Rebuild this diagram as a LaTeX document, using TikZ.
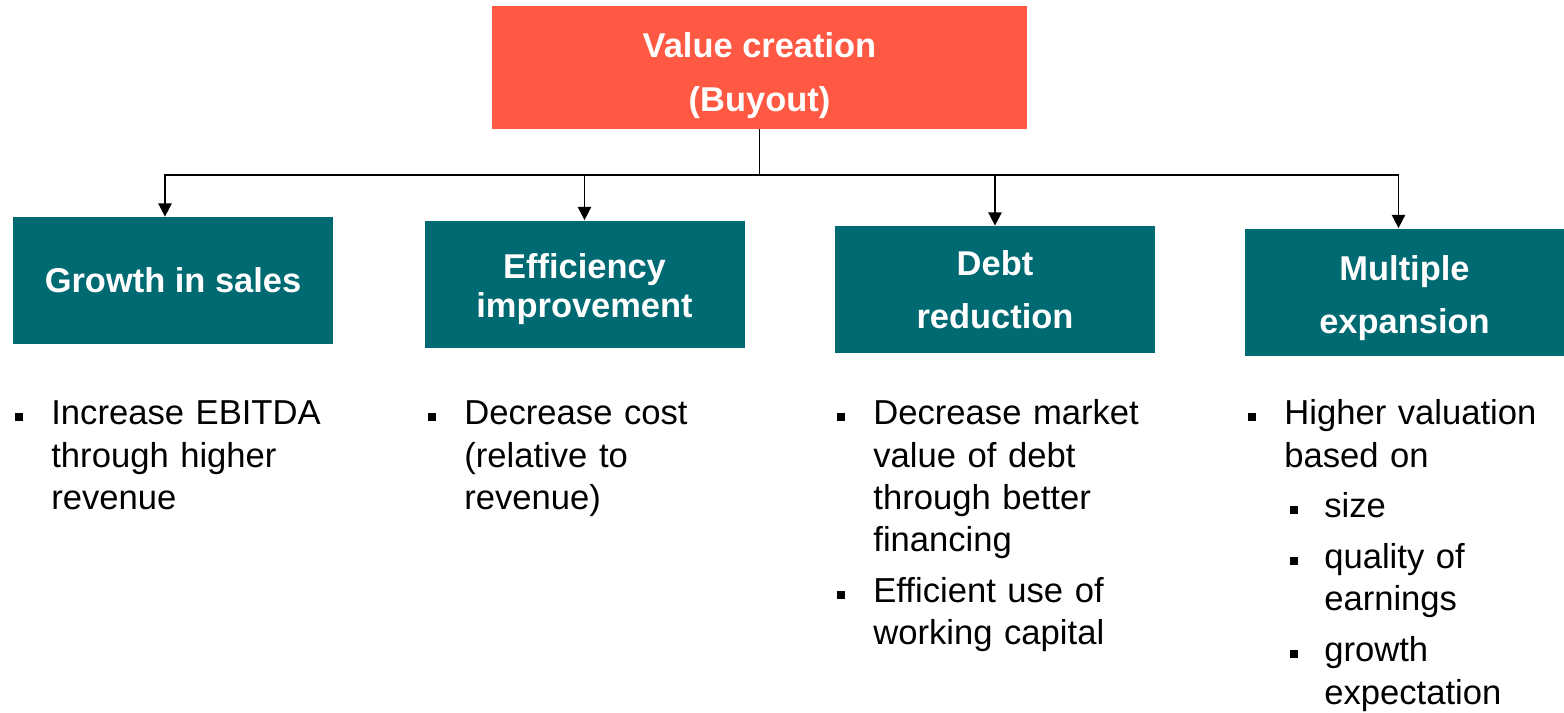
\documentclass[tikz,border=0pt]{standalone}
\usepackage{fontspec}
\setmainfont{Liberation Sans}
\usepackage{enumitem}
\usetikzlibrary{arrows.meta}

\definecolor{buyoutred}{HTML}{FF5843}
\definecolor{leverteal}{HTML}{006A72}

\setlist[itemize,1]{label=\rule[2.3pt]{4.2pt}{4.2pt}, leftmargin=20.5pt,
    labelwidth=4.2pt, labelsep=16.3pt, topsep=0pt, partopsep=0pt,
    itemsep=4.8pt, parsep=0pt}
\setlist[itemize,2]{label=\rule[2.3pt]{4.2pt}{4.2pt}, leftmargin=22.7pt,
    labelwidth=4.2pt, labelsep=15.1pt, topsep=4.8pt, partopsep=0pt,
    itemsep=4.8pt, parsep=0pt}

% pushes the lines of a box a little down
\newcommand{\lowerby}[1]{\rule{0pt}{#1}}

\begin{document}
\begin{tikzpicture}[
    lever/.style={
        fill=leverteal,
        text=white,
        inner sep=0pt,
        minimum width=6.4cm,
        minimum height=2.54cm,
        align=center,
        font=\bfseries\fontsize{19.6}{22.7}\selectfont
    },
    wide lever/.style={
        lever,
        font=\bfseries\fontsize{19.6}{30}\selectfont
    },
    bullets/.style={
        anchor=north west,
        inner sep=0pt,
        text width=6.2cm,
        align=left,
        font=\fontsize{19.7}{24.1}\selectfont
    },
    link/.style={line width=0.9pt, black},
    arrow/.style={link, -{Triangle[length=7.5pt, width=7.5pt]}}
]

\useasboundingbox (0,0) rectangle (31.28,-14.26);

%%%%%%%%%%%%%%%%%%%%%%%%
% Top box
%%%%%%%%%%%%%%%%%%%%%%%%

\node[fill=buyoutred, text=white, inner sep=0pt,
      minimum width=10.7cm, minimum height=2.46cm, align=center,
      font=\bfseries\fontsize{19.6}{31}\selectfont]
    (value) at (15.19,-1.35) {\lowerby{23.5pt}Value creation\\(Buyout)};

%%%%%%%%%%%%%%%%%%%%%%%%
% Value levers
%%%%%%%%%%%%%%%%%%%%%%%%

\node[lever] (growth) at (3.46,-5.61) {Growth in sales};
\node[lever] (efficiency) at (11.69,-5.68) {\lowerby{20pt}Efficiency\\improvement};
\node[wide lever] (debt) at (19.90,-5.79) {Debt\\reduction};
\node[wide lever, minimum width=6.38cm] (multiple) at (28.09,-5.84) {\lowerby{21pt}Multiple\\expansion};

%%%%%%%%%%%%%%%%%%%%%%%%
% Connectors
%%%%%%%%%%%%%%%%%%%%%%%%

\coordinate (bus) at (15.19,-3.5);
\draw[link] (value.south) -- (bus);
\draw[arrow] (bus) -| ([xshift=-0.16cm]growth.north);
\draw[arrow] (bus) -| (efficiency.north);
\draw[arrow] (bus) -| (debt.north);
\draw[arrow] (bus) -| ([xshift=-0.12cm]multiple.north);

%%%%%%%%%%%%%%%%%%%%%%%%
% Bullet texts
%%%%%%%%%%%%%%%%%%%%%%%%

\node[bullets] (growthtext) at (0.30,-7.64) {%
    \begin{itemize}
    \item Increase EBITDA\\through higher\\revenue
    \end{itemize}};

\node[bullets] (efficiencytext) at (8.56,-7.64) {%
    \begin{itemize}
    \item Decrease cost\\(relative to\\revenue)
    \end{itemize}};

\node[bullets] (debttext) at (16.74,-7.64) {%
    \begin{itemize}
    \item Decrease market\\value of debt\\through better\\financing
    \item Efficient use of\\working capital
    \end{itemize}};

\node[bullets] (multipletext) at (24.96,-7.64) {%
    \begin{itemize}
    \item Higher valuation\\based on
        \begin{itemize}
        \item size
        \item quality of\\earnings
        \item growth\\expectation
        \end{itemize}
    \end{itemize}};

\end{tikzpicture}
\end{document}
